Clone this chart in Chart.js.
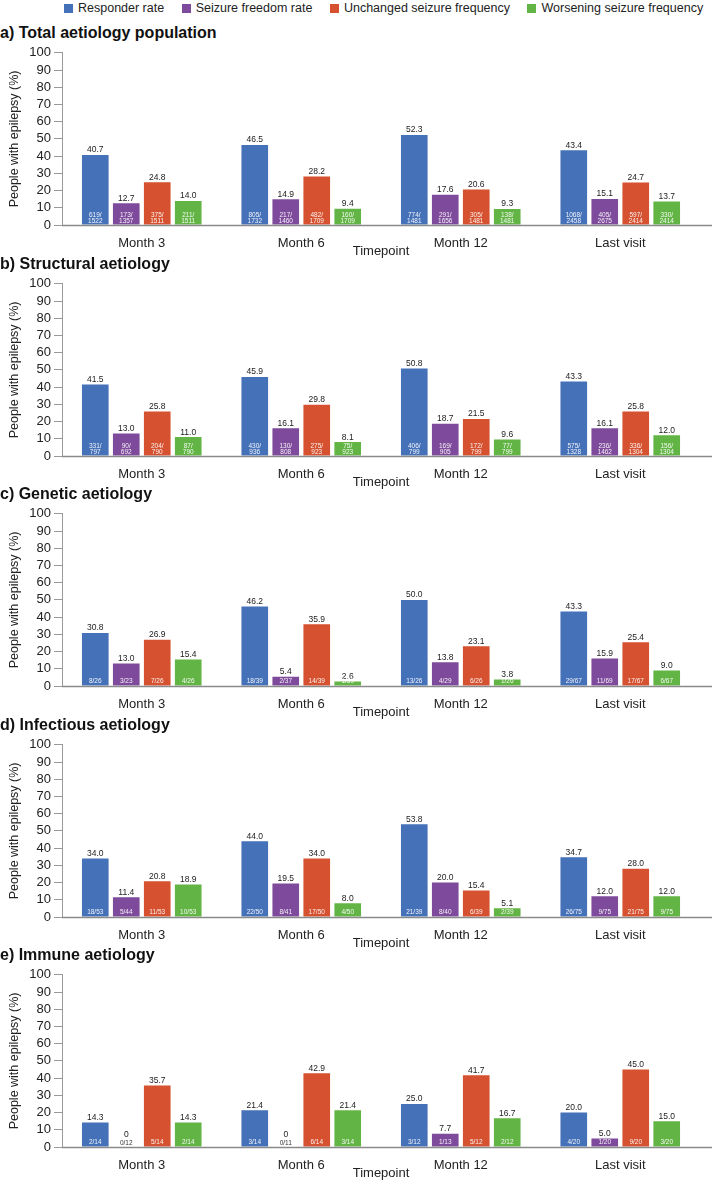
<!DOCTYPE html>
<html>
<head>
<meta charset="utf-8">
<script src="https://cdn.jsdelivr.net/npm/chart.js@4.4.1/dist/chart.umd.min.js"></script>
<style>
  body { margin: 0; background: #fff; font-family: "Liberation Sans", Arial, Helvetica, sans-serif; }
  #page { position: relative; width: 712px; height: 1181px; overflow: hidden; }
  #legend { position: absolute; top: 0; left: 64px; height: 16px; display: flex; align-items: center; gap: 17.5px; font-size: 12.5px; color: #222; }
  #legend span.sw { display: inline-block; width: 9px; height: 9px; margin-right: 5px; vertical-align: -1px; }
  .ptitle { position: absolute; left: 0; height: 18px; line-height: 18px; font-size: 16px; font-weight: bold; color: #111; white-space: nowrap; }
  canvas { position: absolute; left: 0; }
</style>
</head>
<body>
<div id="page">
  <div id="legend"></div>
</div>
<script>
const timepoints = ["Month 3", "Month 6", "Month 12", "Last visit"];
const seriesNames = ["Responder rate", "Seizure freedom rate", "Unchanged seizure frequency", "Worsening seizure frequency"];
const seriesColors = ["#4571b9", "#7e4a9b", "#d5512f", "#62b445"];
const panelTitles = ["a) Total aetiology population", "b) Structural aetiology", "c) Genetic aetiology", "d) Infectious aetiology", "e) Immune aetiology"];

// one row per series: responder, seizure freedom, unchanged, worsening
const totalRates = [[40.7, 46.5, 52.3, 43.4], [12.7, 14.9, 17.6, 15.1], [24.8, 28.2, 20.6, 24.7], [14.0, 9.4, 9.3, 13.7]];
const totalCounts = [["619/1522", "805/1732", "774/1481", "1068/2458"], ["173/1357", "217/1460", "291/1656", "405/2675"], ["375/1511", "482/1709", "305/1481", "597/2414"], ["211/1511", "160/1709", "138/1481", "330/2414"]];

const structuralRates = [[41.5, 45.9, 50.8, 43.3], [13.0, 16.1, 18.7, 16.1], [25.8, 29.8, 21.5, 25.8], [11.0, 8.1, 9.6, 12.0]];
const structuralCounts = [["331/797", "430/936", "406/799", "575/1328"], ["90/692", "130/808", "169/905", "236/1462"], ["204/790", "275/923", "172/799", "336/1304"], ["87/790", "75/923", "77/799", "156/1304"]];

const geneticRates = [[30.8, 46.2, 50.0, 43.3], [13.0, 5.4, 13.8, 15.9], [26.9, 35.9, 23.1, 25.4], [15.4, 2.6, 3.8, 9.0]];
const geneticCounts = [["8/26", "18/39", "13/26", "29/67"], ["3/23", "2/37", "4/29", "11/69"], ["7/26", "14/39", "6/26", "17/67"], ["4/26", "1/39", "1/26", "6/67"]];

const infectiousRates = [[34.0, 44.0, 53.8, 34.7], [11.4, 19.5, 20.0, 12.0], [20.8, 34.0, 15.4, 28.0], [18.9, 8.0, 5.1, 12.0]];
const infectiousCounts = [["18/53", "22/50", "21/39", "26/75"], ["5/44", "8/41", "8/40", "9/75"], ["11/53", "17/50", "6/39", "21/75"], ["10/53", "4/50", "2/39", "9/75"]];

const immuneRates = [[14.3, 21.4, 25.0, 20.0], [0, 0, 7.7, 5.0], [35.7, 42.9, 41.7, 45.0], [14.3, 21.4, 16.7, 15.0]];
const immuneCounts = [["2/14", "3/14", "3/12", "4/20"], ["0/12", "0/11", "1/13", "1/20"], ["5/14", "6/14", "5/12", "9/20"], ["2/14", "3/14", "2/12", "3/20"]];

const panelRates = [totalRates, structuralRates, geneticRates, infectiousRates, immuneRates];
const panelCounts = [totalCounts, structuralCounts, geneticCounts, infectiousCounts, immuneCounts];

const FONT = '"Liberation Sans", Arial, Helvetica, sans-serif';
Chart.defaults.font.family = FONT;
Chart.defaults.color = "#222";

// legend
const legend = document.getElementById("legend");
seriesNames.forEach((name, i) => {
  const item = document.createElement("div");
  item.innerHTML = `<span class="sw" style="background:${seriesColors[i]}"></span>${name}`;
  legend.appendChild(item);
});

// value on top, n/N at the foot of each bar
const barLabels = {
  id: "barLabels",
  afterDatasetsDraw(chart, args, opts) {
    const ctx = chart.ctx;
    chart.data.datasets.forEach((ds, di) => {
      chart.getDatasetMeta(di).data.forEach((bar, i) => {
        const v = ds.data[i];
        const base = bar.base;
        ctx.save();
        ctx.textAlign = "center";
        ctx.textBaseline = "alphabetic";
        ctx.fillStyle = "#222";
        ctx.font = "8.5px " + FONT;
        ctx.fillText(v === 0 ? "0" : v.toFixed(1), bar.x, v === 0 ? base - 10 : bar.y - 2.5);

        const txt = opts.counts[di][i];
        ctx.font = "6.5px " + FONT;
        ctx.textBaseline = "middle";
        ctx.fillStyle = v === 0 ? "#333" : "rgba(255,255,255,0.92)";
        if (txt.length > 5) {
          const parts = txt.split("/");
          ctx.fillText(parts[0] + "/", bar.x, base - 9.5);
          ctx.fillText(parts[1], bar.x, base - 3);
        } else {
          ctx.fillText(txt, bar.x, base - 4);
        }
        ctx.restore();
      });
    });
  }
};

// x axis baseline running to the right edge
const baseLine = {
  id: "baseLine",
  afterDraw(chart) {
    const { ctx, chartArea } = chart;
    ctx.save();
    ctx.strokeStyle = "#8a8a8a";
    ctx.lineWidth = 1.5;
    ctx.beginPath();
    ctx.moveTo(chartArea.left, chartArea.bottom + 0.5);
    ctx.lineTo(chart.width, chartArea.bottom + 0.5);
    ctx.stroke();
    ctx.restore();
  }
};

const page = document.getElementById("page");
const PITCH = 230.6;

panelTitles.forEach((title, p) => {
  const off = PITCH * p;
  const t = document.createElement("div");
  t.className = "ptitle";
  t.style.top = (24 + off) + "px";
  t.textContent = title;
  page.appendChild(t);

  const canvas = document.createElement("canvas");
  canvas.width = 712;
  canvas.height = 218;
  canvas.style.width = "712px";
  canvas.style.height = "218px";
  canvas.style.top = (42 + off) + "px";
  page.appendChild(canvas);

  new Chart(canvas, {
    type: "bar",
    data: {
      labels: timepoints,
      datasets: seriesNames.map((name, s) => ({
        label: name,
        data: panelRates[p][s],
        backgroundColor: seriesColors[s],
        borderWidth: 0,
        categoryPercentage: 0.777,
        barPercentage: 0.86
      }))
    },
    options: {
      responsive: false,
      animation: false,
      layout: { padding: { top: 6, right: 12, left: 0, bottom: 0 } },
      plugins: {
        legend: { display: false },
        tooltip: { enabled: false },
        barLabels: { counts: panelCounts[p] }
      },
      scales: {
        x: {
          grid: { display: false },
          border: { display: false },
          ticks: { font: { size: 13 }, color: "#222", padding: 3, maxRotation: 0, autoSkip: false },
          title: { display: true, text: "Timepoint", font: { size: 13 }, color: "#222", padding: { top: 0, bottom: 1 } },
          afterFit(scale) { scale.height = 35; }
        },
        y: {
          min: 0,
          max: 100,
          ticks: { stepSize: 10, autoSkip: false, font: { size: 13 }, color: "#222", padding: 3 },
          grid: { drawOnChartArea: false, drawTicks: true, tickLength: 8, color: "#999" },
          border: { display: true, color: "#999", width: 1 },
          title: { display: true, text: "People with epilepsy (%)", font: { size: 12.5 }, color: "#222", padding: { top: 7, bottom: 0 } },
          afterFit(scale) { scale.width = 62; }
        }
      }
    },
    plugins: [barLabels, baseLine]
  });
});
</script>
</body>
</html>
